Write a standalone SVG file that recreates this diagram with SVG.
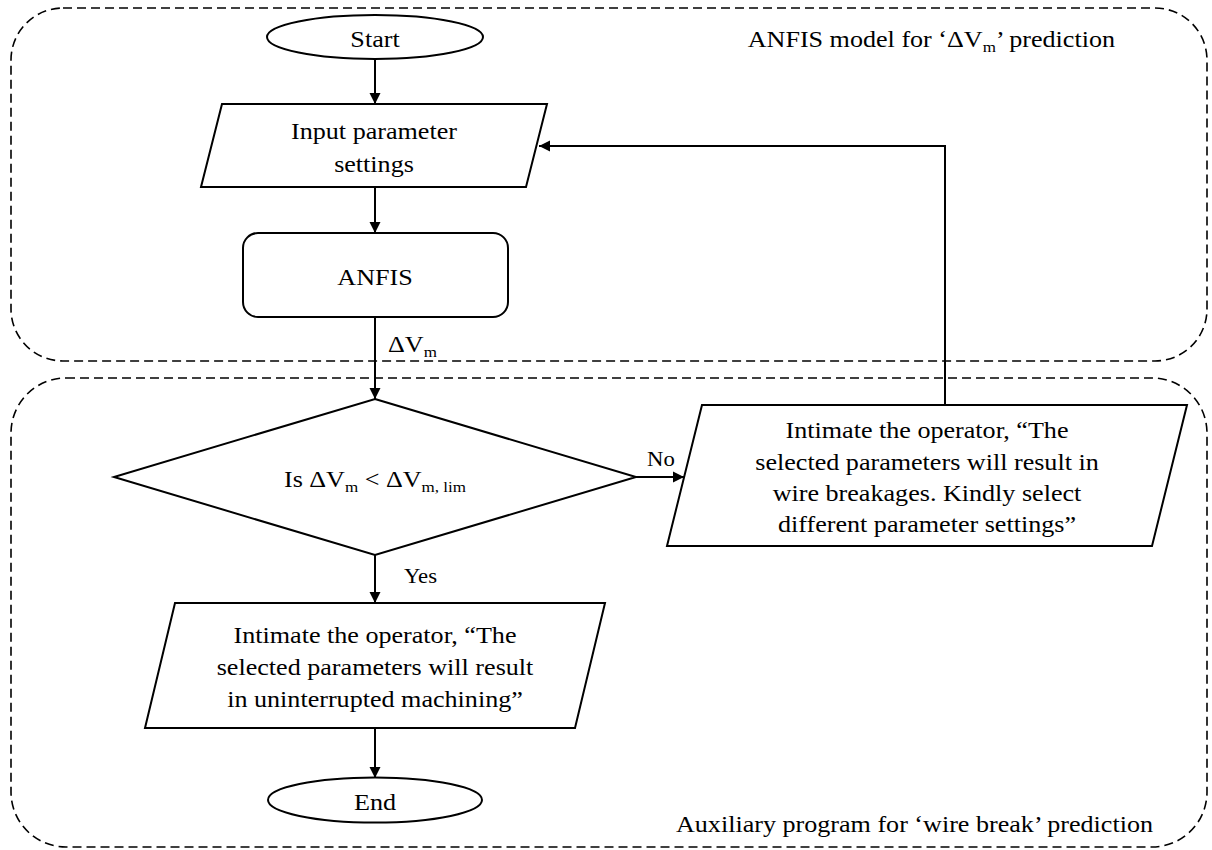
<svg xmlns="http://www.w3.org/2000/svg" width="1212" height="850" viewBox="0 0 1212 850">
<style>
.bg{fill:#fff}
.region{fill:none;stroke:#000;stroke-width:1.6;stroke-dasharray:9 5}
.shape{fill:#fff;stroke:#000;stroke-width:2}
.conn{fill:none;stroke:#000;stroke-width:2;marker-end:url(#arrow)}
.t{font-family:"Liberation Serif","Times New Roman",serif;font-size:23px;fill:#000;text-anchor:middle}
.l{text-anchor:start}
.e{text-anchor:end}
.s{font-size:15px}
</style>
<defs>
<marker id="arrow" markerUnits="userSpaceOnUse" markerWidth="12" markerHeight="12" viewBox="0 0 12 12" refX="11" refY="6" orient="auto">
<path d="M0,0.5 L11,6 L0,11.5 z" fill="#000"/>
</marker>
</defs>
<rect class="bg" x="0" y="0" width="1212" height="850"/>
<g id="regions">
<rect class="region" x="11" y="8" width="1196" height="353" rx="52" ry="52"/>
<rect class="region" x="11" y="378" width="1196" height="469" rx="55" ry="55"/>
<text class="t e" transform="translate(1115 47) scale(1.135 1)">ANFIS model for ‘ΔV<tspan class="s" dy="5">m</tspan><tspan dy="-5">’ prediction</tspan></text>
<text class="t e" transform="translate(1153 832) scale(1.135 1)">Auxiliary program for ‘wire break’ prediction</text>
</g>
<g id="connectors">
<line class="conn" x1="375" y1="59" x2="375" y2="104"/>
<line class="conn" x1="375" y1="187" x2="375" y2="233"/>
<line class="conn" x1="375" y1="317" x2="375" y2="399"/>
<line class="conn" x1="636" y1="477" x2="684" y2="477"/>
<line class="conn" x1="375" y1="555" x2="375" y2="603"/>
<line class="conn" x1="375" y1="728" x2="375" y2="778"/>
<polyline class="conn" points="945,405 945,146 539,146"/>
<text class="t l" transform="translate(388 352) scale(1.135 1)">ΔV<tspan class="s" dy="5">m</tspan></text>
<text class="t l" transform="translate(647 466) scale(1.135 1)" style="font-size:20px">No</text>
<text class="t l" transform="translate(404 583) scale(1.135 1)" style="font-size:20px">Yes</text>
</g>
<g id="start">
<ellipse class="shape" cx="375" cy="37" rx="108" ry="22"/>
<text class="t" transform="translate(375 47) scale(1.135 1)">Start</text>
</g>
<g id="input">
<polygon class="shape" points="222,104 547,104 526,187 201,187"/>
<text class="t" transform="translate(374 139) scale(1.135 1)">Input parameter</text>
<text class="t" transform="translate(374 172) scale(1.135 1)">settings</text>
</g>
<g id="anfis">
<rect class="shape" x="243" y="233" width="265" height="84" rx="15" ry="15"/>
<text class="t" transform="translate(375 285) scale(1.135 1)">ANFIS</text>
</g>
<g id="decision">
<polygon class="shape" points="375,399 636,477 375,555 114,477"/>
<text class="t" transform="translate(375 487) scale(1.135 1)">Is ΔV<tspan class="s" dy="5">m</tspan><tspan dy="-5"> &lt; ΔV</tspan><tspan class="s" dy="5">m, lim</tspan></text>
</g>
<g id="no-box">
<polygon class="shape" points="702,405 1187,405 1152,546 667,546"/>
<text class="t" transform="translate(927 438) scale(1.135 1)">Intimate the operator, “The</text>
<text class="t" transform="translate(927 470) scale(1.135 1)">selected parameters will result in</text>
<text class="t" transform="translate(927 501) scale(1.135 1)">wire breakages. Kindly select</text>
<text class="t" transform="translate(927 532) scale(1.135 1)">different parameter settings”</text>
</g>
<g id="yes-box">
<polygon class="shape" points="175,603 605,603 575,728 145,728"/>
<text class="t" transform="translate(375 643) scale(1.135 1)">Intimate the operator, “The</text>
<text class="t" transform="translate(375 675) scale(1.135 1)">selected parameters will result</text>
<text class="t" transform="translate(375 707) scale(1.135 1)">in uninterrupted machining”</text>
</g>
<g id="end">
<ellipse class="shape" cx="375" cy="800" rx="107" ry="22.5"/>
<text class="t" transform="translate(375 810) scale(1.135 1)">End</text>
</g>
</svg>
